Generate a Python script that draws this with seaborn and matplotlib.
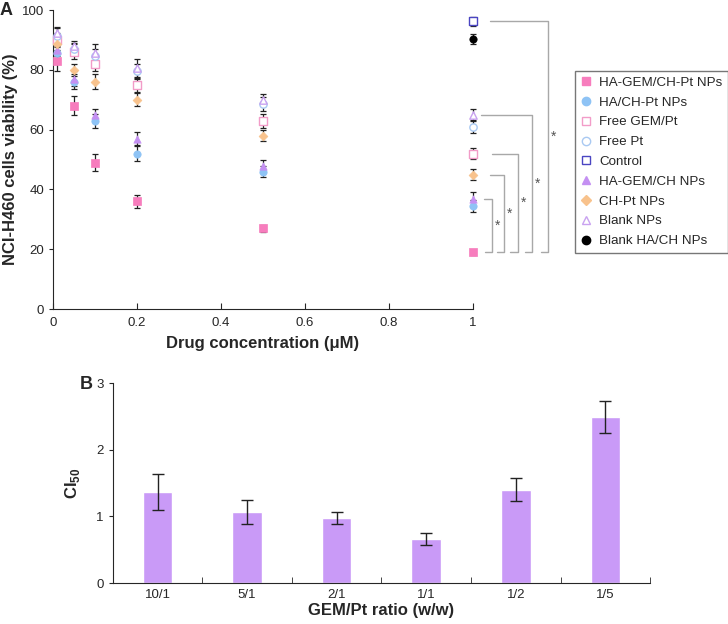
import numpy as np
import pandas as pd
import matplotlib
matplotlib.use("Agg")
from matplotlib import pyplot as plt
from matplotlib.lines import Line2D
import seaborn as sns

# ---- panel A data: viability (%) vs drug concentration (uM)
conc = [0.01, 0.05, 0.1, 0.2, 0.5, 1]
ha_gem_ch_pt = [83, 68, 49, 36, 27, 19]
ha_gem_ch_pt_err = [3.5, 3.2, 2.7, 2.2, 1.2, 0.8]
ha_ch_pt = [85.5, 76, 63, 52, 46, 34.5]
ha_ch_pt_err = [2.5, 2.5, 2.3, 2.5, 2.0, 2.0]
free_gem_pt = [90, 86, 82, 75, 63, 52]
free_gem_pt_err = [2.5, 2.5, 2.5, 2.3, 2.3, 1.8]
free_pt = [91.5, 87, 84.5, 79.5, 68.5, 61]
free_pt_err = [2.5, 2.0, 2.5, 2.5, 2.3, 2.0]
ha_gem_ch = [86.5, 77, 65, 57, 48, 36.7]
ha_gem_ch_err = [2.0, 2.5, 2.0, 2.2, 2.0, 2.5]
ch_pt = [88.5, 80, 76, 70, 58, 45]
ch_pt_err = [2.5, 2.0, 2.5, 2.2, 1.8, 2.0]
blank_nps = [92.5, 88, 85.5, 80.5, 70, 65]
blank_nps_err = [2.0, 1.8, 3.0, 3.0, 2.0, 1.8]
control_conc = [1]
control = [96.3]
control_err = [1.5]
blank_ha_ch = [90.3]
blank_ha_ch_err = [1.8]

# ---- panel B data: CI50 vs GEM/Pt ratio
ratios = ["10/1", "5/1", "2/1", "1/1", "1/2", "1/5"]
ci50 = [1.36, 1.07, 0.98, 0.66, 1.40, 2.49]
ci50_err = [0.27, 0.18, 0.09, 0.085, 0.17, 0.24]

sns.set_style("ticks")
plt.rcParams["font.family"] = ["Liberation Sans", "DejaVu Sans"]
plt.rcParams["mathtext.fontset"] = "custom"
plt.rcParams["mathtext.rm"] = "Liberation Sans"

fig = plt.figure(figsize=(7.28, 6.24), dpi=100)
axA = fig.add_axes([0.0728, 0.5048, 0.577, 0.479])
axB = fig.add_axes([0.155, 0.0657, 0.738, 0.3205])

# name, x, y, err, marker, colour, filled
series = [
    ("HA-GEM/CH-Pt NPs", conc, ha_gem_ch_pt, ha_gem_ch_pt_err, "s", "#f77dbd", True),
    ("HA/CH-Pt NPs", conc, ha_ch_pt, ha_ch_pt_err, "o", "#8ec3f5", True),
    ("Free GEM/Pt", conc, free_gem_pt, free_gem_pt_err, "s", "#f29cc8", False),
    ("Free Pt", conc, free_pt, free_pt_err, "o", "#a9c9f2", False),
    ("Control", control_conc, control, control_err, "s", "#4a45c2", False),
    ("HA-GEM/CH NPs", conc, ha_gem_ch, ha_gem_ch_err, "^", "#c490f2", True),
    ("CH-Pt NPs", conc, ch_pt, ch_pt_err, "D", "#f8c28c", True),
    ("Blank NPs", conc, blank_nps, blank_nps_err, "^", "#c9a2f0", False),
    ("Blank HA/CH NPs", control_conc, blank_ha_ch, blank_ha_ch_err, "o", "black", True),
]

handles = []
for name, xs, ys, es, mk, col, filled in series:
    axA.errorbar(xs, ys, yerr=es, fmt="none", ecolor="#222222",
                 elinewidth=0.9, capsize=2.5, capthick=0.9, zorder=2,
                 clip_on=False)
    size = 28 if mk != "D" else 20
    if filled:
        sns.scatterplot(x=xs, y=ys, ax=axA, marker=mk, s=size, color=col,
                        edgecolor=col, linewidth=0.5, zorder=3, legend=False,
                        clip_on=False)
    else:
        sns.scatterplot(x=xs, y=ys, ax=axA, marker=mk, s=size, color=col,
                        facecolor="white", edgecolor=col, linewidth=1.0,
                        zorder=3, legend=False, clip_on=False)
    handles.append(Line2D([], [], linestyle="none", marker=mk,
                          markersize=6 if mk != "D" else 5,
                          markerfacecolor=col if filled else "none",
                          markeredgecolor=col, markeredgewidth=1.0, label=name))

axA.set_xlim(0, 1)
axA.set_ylim(0, 100)
axA.set_xticks([0, 0.2, 0.4, 0.6, 0.8, 1])
axA.set_xticklabels(["0", "0.2", "0.4", "0.6", "0.8", "1"])
axA.set_yticks([0, 20, 40, 60, 80, 100])
axA.tick_params(axis="x", direction="in", length=4, labelsize=9.5, pad=6)
axA.tick_params(axis="y", direction="out", length=3, labelsize=9.5)
axA.set_xlabel("Drug concentration (\u03bcM)", fontsize=12, fontweight="bold", labelpad=5)
axA.set_ylabel("NCI-H460 cells viability (%)", fontsize=12, fontweight="bold", labelpad=3)
sns.despine(ax=axA)

# significance brackets at 1 uM against HA-GEM/CH-Pt NPs
base = ha_gem_ch_pt[-1]
brackets = [
    (ha_gem_ch[-1], 1.025, 1.045),
    (ch_pt[-1], 1.040, 1.073),
    (free_gem_pt[-1], 1.045, 1.106),
    (blank_nps[-1], 1.020, 1.140),
    (control[0], 1.040, 1.178),
]
for top, x0, xv in brackets:
    axA.plot([x0, xv, xv, xv - 0.017], [top, top, base, base],
             color="#a8a8a8", lw=1.0, clip_on=False, zorder=1)
    axA.text(xv + 0.013, (top + base) / 2, "*", color="#555555",
             fontsize=10, ha="center", va="center", clip_on=False)

fig.legend(handles=handles, loc="upper left", bbox_to_anchor=(0.79, 0.886),
           frameon=True, fancybox=False, edgecolor="#555555", fontsize=9.6,
           handlelength=0.8, handletextpad=0.6, labelspacing=0.56,
           borderpad=0.4, borderaxespad=0)

# panel B bars
dfB = pd.DataFrame({"ratio": ratios, "ci50": ci50})
sns.barplot(data=dfB, x="ratio", y="ci50", ax=axB, color="#c99af7",
            saturation=1, width=0.33, errorbar=None)
axB.errorbar(np.arange(len(ratios)), ci50, yerr=ci50_err, fmt="none",
             ecolor="#222222", elinewidth=1.0, capsize=4, capthick=1.0)
axB.set_xlim(-0.5, len(ratios) - 0.5)
axB.set_ylim(0, 3)
axB.set_yticks([0, 1, 2, 3])
axB.set_xticks(np.arange(len(ratios)))
axB.set_xticklabels(ratios)
axB.set_xticks(np.arange(len(ratios)) + 0.5, minor=True)
axB.tick_params(axis="x", which="major", length=0, labelsize=9.5, pad=4)
axB.tick_params(axis="x", which="minor", direction="in", length=4)
axB.tick_params(axis="y", direction="out", length=3, labelsize=9.5)
axB.set_xlabel("GEM/Pt ratio (w/w)", fontsize=12, fontweight="bold", labelpad=2)
axB.set_ylabel("CI$_{\\mathregular{50}}$", fontsize=12, fontweight="bold", labelpad=10)
sns.despine(ax=axB)

fig.text(0.0, 0.983, "A", fontsize=13, fontweight="bold", va="center", ha="left")
fig.text(0.11, 0.384, "B", fontsize=13, fontweight="bold", va="center", ha="left")

fig.savefig("out.png", dpi=100)
